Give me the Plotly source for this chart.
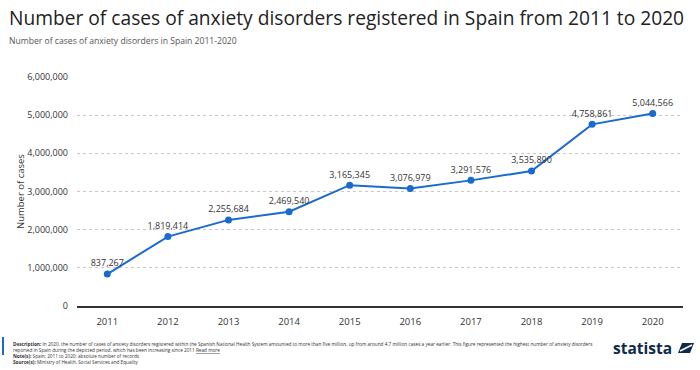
import plotly.graph_objects as go

years = ["2011", "2012", "2013", "2014", "2015", "2016", "2017", "2018", "2019", "2020"]
cases = [837267, 1819414, 2255684, 2469540, 3165345, 3076979, 3291576, 3535890, 4758861, 5044566]
y_ticks = [0, 1000000, 2000000, 3000000, 4000000, 5000000, 6000000]
y_tick_labels = ["0", "1,000,000", "2,000,000", "3,000,000", "4,000,000", "5,000,000", "6,000,000"]

FONT = "Open Sans"
W, H = 700, 370
L, R, T, B = 77, 17, 77, 64
PW, PH = W - L - R, H - T - B

def px(x):
    return (x - L) / PW

def py(y):
    return (H - B - y) / PH

fig = go.Figure()
fig.add_trace(go.Scatter(
    x=years, y=cases, mode="lines+markers+text",
    line=dict(color="#1a6ad0", width=2),
    marker=dict(color="#1a6ad0", size=7),
    text=[f"{v:,}" for v in cases], textposition="top center",
    textfont=dict(family=FONT, size=9, color="#333333"),
    cliponaxis=False, showlegend=False, hoverinfo="skip",
))

fig.update_layout(
    width=W, height=H,
    margin=dict(l=L, r=R, t=T, b=B, autoexpand=False),
    paper_bgcolor="white", plot_bgcolor="white",
    font=dict(family=FONT, color="#333333"),
    xaxis=dict(type="category", range=[-0.5, 9.5], showgrid=False, automargin=False,
               showline=True, linecolor="#333333", linewidth=2,
               ticks="", ticklabelstandoff=6, tickfont=dict(size=9.5, color="#333333")),
    yaxis=dict(range=[0, 6000000], tickvals=y_ticks, ticktext=y_tick_labels, automargin=False,
               showgrid=True, gridcolor="#c8c8c8", griddash="dot", gridwidth=1,
               zeroline=False, ticks="", ticklabelstandoff=8,
               tickfont=dict(size=9, color="#333333")),
)

fig.add_annotation(text="Number of cases", xref="paper", yref="paper", x=px(20), y=py(192),
                   xanchor="center", yanchor="middle", textangle=-90, showarrow=False,
                   font=dict(family=FONT, size=9.5, color="#333333"))
fig.add_annotation(text="Number of cases of anxiety disorders registered in Spain from 2011 to 2020",
                   xref="paper", yref="paper", x=px(7), xanchor="left",
                   y=py(18), yanchor="middle", showarrow=False,
                   font=dict(family=FONT, size=19.2, color="#222222"))
fig.add_annotation(text="Number of cases of anxiety disorders in Spain 2011-2020",
                   xref="paper", yref="paper", x=px(7), xanchor="left",
                   y=py(41), yanchor="middle", showarrow=False,
                   font=dict(family=FONT, size=8.6, color="#555555"))

footer = ("<b>Description:</b> In 2020, the number of cases of anxiety disorders registered within the Spanish National Health System amounted to more than five million, up from around 4.7 million cases a year earlier. This figure represented the highest number of anxiety disorders<br>"
          "reported in Spain during the depicted period, which has been increasing since 2011 <u>Read more</u><br>"
          "<b>Note(s):</b> Spain; 2011 to 2020; absolute number of records<br>"
          "<b>Source(s):</b> Ministry of Health, Social Services and Equality")
fig.add_annotation(text=footer, xref="paper", yref="paper", x=px(11), xanchor="left",
                   y=py(339), yanchor="top", align="left", showarrow=False,
                   font=dict(family=FONT, size=4.7, color="#333333"))
fig.add_shape(type="rect", xref="paper", yref="paper", x0=px(2), x1=px(4), y0=py(337), y1=py(355),
              fillcolor="#1a6ad0", line=dict(width=0))
fig.add_annotation(text="<b>statista</b>", xref="paper", yref="paper", x=px(674), xanchor="right",
                   y=py(348), yanchor="middle", showarrow=False,
                   font=dict(family=FONT, size=15.5, color="#0f2b4b"))
fig.add_shape(type="path", xref="paper", yref="paper",
              path=f"M {px(678)},{py(353)} L {px(682)},{py(343)} L {px(694)},{py(343)} L {px(690)},{py(353)} Z",
              fillcolor="#0f2b4b", line=dict(width=0))
fig.add_shape(type="line", xref="paper", yref="paper", x0=px(680), y0=py(351), x1=px(692), y1=py(345),
              line=dict(color="white", width=1.5))

fig.write_html("out.html", config={"displayModeBar": False})
with open("out.html", "r", encoding="utf-8") as f:
    html = f.read()
html = html.replace("<body>", '<body style="margin:0;padding:0;overflow:hidden">', 1)
with open("out.html", "w", encoding="utf-8") as f:
    f.write(html)
